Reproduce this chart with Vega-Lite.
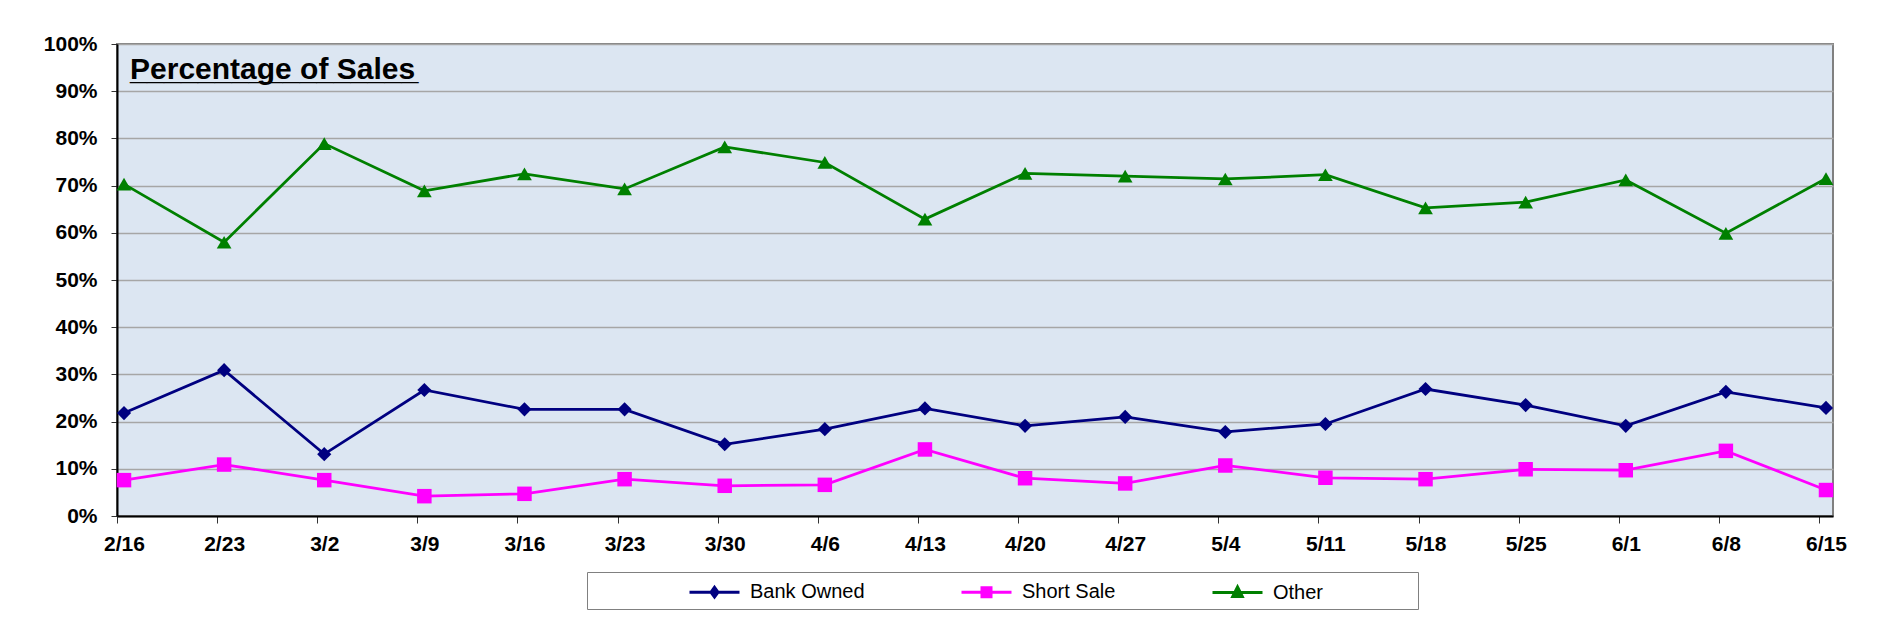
{
  "$schema": "https://vega.github.io/schema/vega-lite/v6.json",
  "width": 1716,
  "height": 472,
  "autosize": {"type": "none"},
  "padding": {"left": 117, "top": 44, "right": 44, "bottom": 110},
  "background": "white",
  "config": {
    "font": "Liberation Sans",
    "view": {"fill": "#DCE6F2", "stroke": "#808080", "strokeWidth": 2}
  },
  "datasets": {
    "sales": [
      {"date": "2/16", "series": "Bank Owned", "value": 21.8},
      {"date": "2/23", "series": "Bank Owned", "value": 30.9},
      {"date": "3/2", "series": "Bank Owned", "value": 13.1},
      {"date": "3/9", "series": "Bank Owned", "value": 26.7},
      {"date": "3/16", "series": "Bank Owned", "value": 22.6},
      {"date": "3/23", "series": "Bank Owned", "value": 22.6},
      {"date": "3/30", "series": "Bank Owned", "value": 15.2},
      {"date": "4/6", "series": "Bank Owned", "value": 18.4},
      {"date": "4/13", "series": "Bank Owned", "value": 22.8},
      {"date": "4/20", "series": "Bank Owned", "value": 19.1},
      {"date": "4/27", "series": "Bank Owned", "value": 21.0},
      {"date": "5/4", "series": "Bank Owned", "value": 17.8},
      {"date": "5/11", "series": "Bank Owned", "value": 19.5},
      {"date": "5/18", "series": "Bank Owned", "value": 26.9},
      {"date": "5/25", "series": "Bank Owned", "value": 23.5},
      {"date": "6/1", "series": "Bank Owned", "value": 19.1},
      {"date": "6/8", "series": "Bank Owned", "value": 26.3},
      {"date": "6/15", "series": "Bank Owned", "value": 22.9},
      {"date": "2/16", "series": "Short Sale", "value": 7.6},
      {"date": "2/23", "series": "Short Sale", "value": 10.9},
      {"date": "3/2", "series": "Short Sale", "value": 7.6},
      {"date": "3/9", "series": "Short Sale", "value": 4.2},
      {"date": "3/16", "series": "Short Sale", "value": 4.7},
      {"date": "3/23", "series": "Short Sale", "value": 7.8},
      {"date": "3/30", "series": "Short Sale", "value": 6.4},
      {"date": "4/6", "series": "Short Sale", "value": 6.6},
      {"date": "4/13", "series": "Short Sale", "value": 14.1},
      {"date": "4/20", "series": "Short Sale", "value": 8.0},
      {"date": "4/27", "series": "Short Sale", "value": 6.9},
      {"date": "5/4", "series": "Short Sale", "value": 10.7},
      {"date": "5/11", "series": "Short Sale", "value": 8.1},
      {"date": "5/18", "series": "Short Sale", "value": 7.8},
      {"date": "5/25", "series": "Short Sale", "value": 9.9},
      {"date": "6/1", "series": "Short Sale", "value": 9.7},
      {"date": "6/8", "series": "Short Sale", "value": 13.8},
      {"date": "6/15", "series": "Short Sale", "value": 5.5},
      {"date": "2/16", "series": "Other", "value": 70.3},
      {"date": "2/23", "series": "Other", "value": 58.0},
      {"date": "3/2", "series": "Other", "value": 78.9},
      {"date": "3/9", "series": "Other", "value": 68.9},
      {"date": "3/16", "series": "Other", "value": 72.5},
      {"date": "3/23", "series": "Other", "value": 69.3},
      {"date": "3/30", "series": "Other", "value": 78.2},
      {"date": "4/6", "series": "Other", "value": 74.9},
      {"date": "4/13", "series": "Other", "value": 62.9},
      {"date": "4/20", "series": "Other", "value": 72.6},
      {"date": "4/27", "series": "Other", "value": 72.0},
      {"date": "5/4", "series": "Other", "value": 71.4},
      {"date": "5/11", "series": "Other", "value": 72.3},
      {"date": "5/18", "series": "Other", "value": 65.3},
      {"date": "5/25", "series": "Other", "value": 66.5},
      {"date": "6/1", "series": "Other", "value": 71.2},
      {"date": "6/8", "series": "Other", "value": 59.9},
      {"date": "6/15", "series": "Other", "value": 71.5}
    ],
    "heading": [
      {"t": "Percentage of Sales", "u": "_________________"}
    ]
  },
  "layer": [
    {
      "data": {"name": "sales"},
      "mark": {"type": "line", "strokeWidth": 2.75},
      "encoding": {
        "x": {
          "field": "date", "type": "ordinal",
          "sort": ["2/16","2/23","3/2","3/9","3/16","3/23","3/30","4/6","4/13","4/20","4/27","5/4","5/11","5/18","5/25","6/1","6/8","6/15"],
          "scale": {"type": "point", "padding": 0.07, "domain": ["2/16","2/23","3/2","3/9","3/16","3/23","3/30","4/6","4/13","4/20","4/27","5/4","5/11","5/18","5/25","6/1","6/8","6/15"]},
          "axis": {
            "title": null, "labelAngle": 0, "labelFontSize": 21, "labelFontWeight": "bold",
            "labelColor": "black", "labelFont": "Liberation Sans", "tickSize": 7, "tickOffset": -7, "labelOffset": 7,
            "labelPadding": 10, "domainColor": "black", "domainWidth": 2, "tickColor": "#333333",
            "tickWidth": 1, "grid": false, "labelOverlap": false
          }
        },
        "y": {
          "field": "value", "type": "quantitative",
          "scale": {"domain": [0, 100], "nice": false},
          "axis": {
            "title": null, "values": [0,10,20,30,40,50,60,70,80,90,100],
            "labelExpr": "datum.value + '%'", "labelFontSize": 21, "labelFontWeight": "bold",
            "labelColor": "black", "labelFont": "Liberation Sans", "labelPadding": 14, "tickSize": 6,
            "tickColor": "#333333", "domainColor": "black", "domainWidth": 2,
            "grid": true, "gridColor": "#A6A6A6", "gridWidth": 1.5
          }
        },
        "color": {
          "field": "series", "type": "nominal",
          "scale": {"domain": ["Bank Owned", "Short Sale", "Other"], "range": ["#000080", "#FF00FF", "#008000"]},
          "legend": {
            "orient": "none", "legendX": 470, "legendY": 528, "direction": "horizontal",
            "title": "\u200b\u00a0\u00a0\u00a0\u00a0\u00a0\u00a0\u00a0\u00a0\u00a0\u00a0\u00a0\u00a0\u00a0\u00a0\u00a0\u200b", "titleOrient": "left", "titleAngle": 0, "titleFontSize": 20, "titlePadding": 11,
            "padding": 6, "strokeColor": "#808080", "fillColor": "white",
            "labelFontSize": 20, "labelColor": "black", "labelFont": "Liberation Sans", "labelLimit": 300,
            "labelExpr": "datum.label === 'Other' ? 'Other\u00a0\u00a0\u00a0\u00a0\u00a0\u00a0\u00a0\u00a0\u00a0\u00a0\u00a0\u00a0\u00a0\u00a0\u00a0\u00a0\u200b' : datum.label",
            "symbolSize": 625, "symbolOffset": 12.5, "labelOffset": 21.5, "columnPadding": 90,
            "encode": {
              "symbols": {
                "update": {
                  "shape": {"signal": "datum.value === 'Bank Owned' ? 'M-2,0H2M0,-0.38L0.28,0L0,0.38L-0.28,0Z' : datum.value === 'Short Sale' ? 'M-2,0H2M-0.36,-0.36H0.36V0.36H-0.36Z' : 'M-2,0H2M0,-0.44L0.38,0.32H-0.38Z'"},
                  "fill": {"scale": "color", "field": "value"},
                  "stroke": {"scale": "color", "field": "value"},
                  "strokeWidth": {"value": 3},
                  "opacity": {"value": 1}
                }
              }
            }
          }
        }
      }
    },
    {
      "data": {"name": "sales"},
      "transform": [{"filter": "datum.series === 'Bank Owned'"}],
      "mark": {"type": "point", "filled": true, "opacity": 1, "size": 200, "shape": "diamond"},
      "encoding": {
        "x": {"field": "date", "type": "ordinal", "sort": ["2/16","2/23","3/2","3/9","3/16","3/23","3/30","4/6","4/13","4/20","4/27","5/4","5/11","5/18","5/25","6/1","6/8","6/15"]},
        "y": {"field": "value", "type": "quantitative"},
        "color": {"field": "series", "type": "nominal"}
      }
    },
    {
      "data": {"name": "sales"},
      "transform": [{"filter": "datum.series === 'Short Sale'"}],
      "mark": {"type": "point", "filled": true, "opacity": 1, "size": 210, "shape": "square"},
      "encoding": {
        "x": {"field": "date", "type": "ordinal", "sort": ["2/16","2/23","3/2","3/9","3/16","3/23","3/30","4/6","4/13","4/20","4/27","5/4","5/11","5/18","5/25","6/1","6/8","6/15"]},
        "y": {"field": "value", "type": "quantitative"},
        "color": {"field": "series", "type": "nominal"}
      }
    },
    {
      "data": {"name": "sales"},
      "transform": [{"filter": "datum.series === 'Other'"}],
      "mark": {"type": "point", "filled": true, "opacity": 1, "size": 216, "shape": "triangle-up"},
      "encoding": {
        "x": {"field": "date", "type": "ordinal", "sort": ["2/16","2/23","3/2","3/9","3/16","3/23","3/30","4/6","4/13","4/20","4/27","5/4","5/11","5/18","5/25","6/1","6/8","6/15"]},
        "y": {"field": "value", "type": "quantitative"},
        "color": {"field": "series", "type": "nominal"}
      }
    },
    {
      "data": {"name": "heading"},
      "mark": {"type": "text", "align": "left", "baseline": "alphabetic", "dx": 6, "fontSize": 30, "fontWeight": "bold", "color": "black"},
      "encoding": {
        "x": {"datum": "2/16", "type": "ordinal"},
        "y": {"datum": 92.6, "type": "quantitative"},
        "text": {"field": "t"}
      }
    },
    {
      "data": {"name": "heading"},
      "mark": {"type": "text", "align": "left", "baseline": "alphabetic", "dx": 6, "fontSize": 30.5, "fontWeight": "bold", "color": "black"},
      "encoding": {
        "x": {"datum": "2/16", "type": "ordinal"},
        "y": {"datum": 92.6, "type": "quantitative"},
        "text": {"field": "u"}
      }
    }
  ]
}
